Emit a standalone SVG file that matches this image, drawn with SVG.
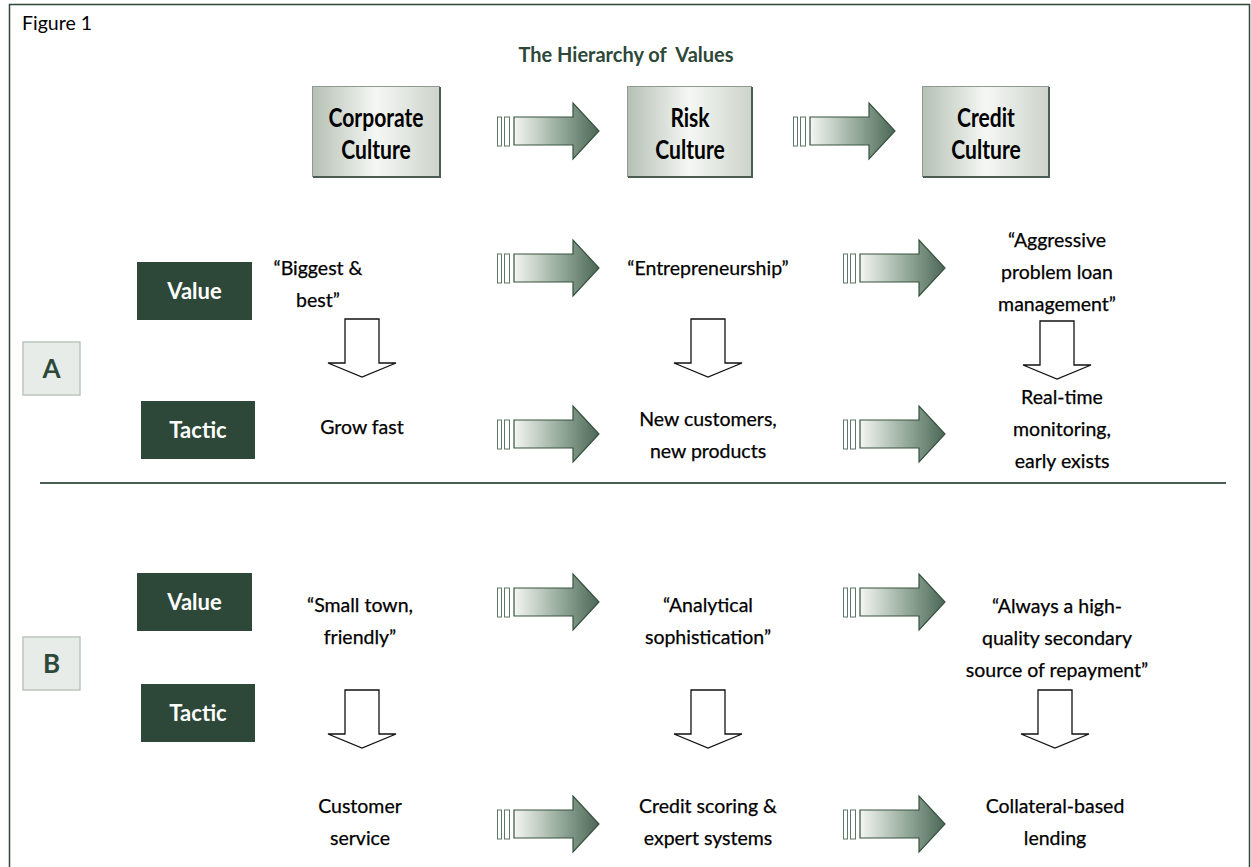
<svg xmlns="http://www.w3.org/2000/svg" width="1251" height="867" viewBox="0 0 1251 867">
  <defs>
    <linearGradient id="boxFill" x1="0" y1="0" x2="1" y2="0">
      <stop offset="0" stop-color="#b5c0b4"/>
      <stop offset="0.5" stop-color="#f5f7f4"/>
      <stop offset="1" stop-color="#cdd4cb"/>
    </linearGradient>
    <linearGradient id="arrowFill" x1="0" y1="0" x2="1" y2="0">
      <stop offset="0" stop-color="#f4f6f3"/>
      <stop offset="0.55" stop-color="#94a999"/>
      <stop offset="1" stop-color="#4b6757"/>
    </linearGradient>
    <!-- horizontal block arrow: two outline bars, then a shaded shaft and head; origin at left, vertical centre -->
    <g id="flowArrow">
      <rect x="0.5" y="-14" width="4" height="29" fill="#fff" stroke="#5e7767" stroke-width="1"/>
      <rect x="7.5" y="-14" width="5" height="29" fill="#fff" stroke="#5e7767" stroke-width="1"/>
      <path d="M17,-14 H76 V-28 L102,0 L76,28 V14 H17 Z" fill="url(#arrowFill)" stroke="#36523f" stroke-width="1.2"/>
    </g>
    <!-- hollow downward arrow; origin at top centre -->
    <path id="downArrow" d="M-17,0 H17 V44 H34 L0,58 L-34,44 H-17 Z" fill="#fff" stroke="#111" stroke-width="1.3" stroke-linejoin="miter"/>
  </defs>
  <style>
    .body { font-family: Lato, "Open Sans", sans-serif; font-size: 19.5px; fill: #000; stroke: #000; stroke-width: 0.25px; text-anchor: middle; }
    .head { font-family: Lato, "Open Sans", sans-serif; font-size: 27px; font-weight: bold; fill: #000; text-anchor: middle; }
    .tag { fill: #2d4838; }
    .tagText { font-family: Lato, "Open Sans", sans-serif; font-size: 22px; font-weight: bold; fill: #fff; text-anchor: middle; }
    .sec { fill: #e8ece8; stroke: #bcc6bd; stroke-width: 1.5; }
    .secText { font-family: Lato, "Open Sans", sans-serif; font-size: 26px; font-weight: bold; fill: #2d4838; text-anchor: middle; }
  </style>

  <rect x="0" y="0" width="1251" height="867" fill="#fff"/>
  <rect x="9.5" y="4.5" width="1240" height="870" fill="#fff" stroke="#2d4838" stroke-width="1.5"/>
  <text x="22" y="30" font-family="Lato, 'Open Sans', sans-serif" font-size="19.5" fill="#000">Figure 1</text>
  <text x="626" y="62" font-family="Lato, 'Open Sans', sans-serif" font-size="20" font-weight="bold" fill="#2d4838" text-anchor="middle" style="white-space:pre">The Hierarchy of  Values</text>

  <!-- divider between sections A and B -->
  <line x1="40" y1="483" x2="1226" y2="483" stroke="#4a5f52" stroke-width="2"/>

  <!-- culture headers (bold type narrowed horizontally) -->
  <g id="corporate-culture">
    <rect x="312.5" y="86.5" width="127" height="90" fill="url(#boxFill)" stroke="#8f9b91" stroke-width="1"/>
    <path d="M313,177 H440 V87" fill="none" stroke="#4b5c51" stroke-width="2"/>
    <text class="head" transform="translate(376 127) scale(0.78 1)">Corporate</text>
    <text class="head" transform="translate(376 159) scale(0.78 1)">Culture</text>
  </g>
  <g id="risk-culture">
    <rect x="627.5" y="86.5" width="124" height="90" fill="url(#boxFill)" stroke="#8f9b91" stroke-width="1"/>
    <path d="M628,177 H752 V87" fill="none" stroke="#4b5c51" stroke-width="2"/>
    <text class="head" transform="translate(690 127) scale(0.78 1)">Risk</text>
    <text class="head" transform="translate(690 159) scale(0.78 1)">Culture</text>
  </g>
  <g id="credit-culture">
    <rect x="922.5" y="86.5" width="126" height="90" fill="url(#boxFill)" stroke="#8f9b91" stroke-width="1"/>
    <path d="M923,177 H1049 V87" fill="none" stroke="#4b5c51" stroke-width="2"/>
    <text class="head" transform="translate(986 127) scale(0.78 1)">Credit</text>
    <text class="head" transform="translate(986 159) scale(0.78 1)">Culture</text>
  </g>

  <!-- row labels -->
  <g id="label-a">
    <rect class="sec" x="23" y="342" width="57" height="53"/>
    <text class="secText" x="51.5" y="378">A</text>
  </g>
  <g id="label-b">
    <rect class="sec" x="23" y="637" width="57" height="53"/>
    <text class="secText" x="51.5" y="673">B</text>
  </g>
  <g id="a-value-tag">
    <rect class="tag" x="137" y="262" width="115" height="58"/>
    <text class="tagText" x="194.5" y="299">Value</text>
  </g>
  <g id="a-tactic-tag">
    <rect class="tag" x="141" y="401" width="114" height="58"/>
    <text class="tagText" x="198" y="438">Tactic</text>
  </g>
  <g id="b-value-tag">
    <rect class="tag" x="137" y="573" width="115" height="58"/>
    <text class="tagText" x="194.5" y="610">Value</text>
  </g>
  <g id="b-tactic-tag">
    <rect class="tag" x="141" y="684" width="114" height="58"/>
    <text class="tagText" x="198" y="721">Tactic</text>
  </g>

  <!-- section A statements -->
  <g id="a-corporate-value">
    <text class="body" x="318" y="275">“Biggest &amp;</text>
    <text class="body" x="318" y="307">best”</text>
  </g>
  <g id="a-risk-value">
    <text class="body" x="708" y="275">“Entrepreneurship”</text>
  </g>
  <g id="a-credit-value">
    <text class="body" x="1057" y="247">“Aggressive</text>
    <text class="body" x="1057" y="279">problem loan</text>
    <text class="body" x="1057" y="311">management”</text>
  </g>
  <g id="a-corporate-tactic">
    <text class="body" x="362" y="434">Grow fast</text>
  </g>
  <g id="a-risk-tactic">
    <text class="body" x="708" y="426">New customers,</text>
    <text class="body" x="708" y="458">new products</text>
  </g>
  <g id="a-credit-tactic">
    <text class="body" x="1062" y="404">Real-time</text>
    <text class="body" x="1062" y="436">monitoring,</text>
    <text class="body" x="1062" y="468">early exists</text>
  </g>

  <!-- section B statements -->
  <g id="b-corporate-value">
    <text class="body" x="360" y="612">“Small town,</text>
    <text class="body" x="360" y="644">friendly”</text>
  </g>
  <g id="b-risk-value">
    <text class="body" x="708" y="612">“Analytical</text>
    <text class="body" x="708" y="644">sophistication”</text>
  </g>
  <g id="b-credit-value">
    <text class="body" x="1057" y="613">“Always a high-</text>
    <text class="body" x="1057" y="645">quality secondary</text>
    <text class="body" x="1057" y="677">source of repayment”</text>
  </g>
  <g id="b-corporate-tactic">
    <text class="body" x="360" y="813">Customer</text>
    <text class="body" x="360" y="845">service</text>
  </g>
  <g id="b-risk-tactic">
    <text class="body" x="708" y="813">Credit scoring &amp;</text>
    <text class="body" x="708" y="845">expert systems</text>
  </g>
  <g id="b-credit-tactic">
    <text class="body" x="1055" y="813">Collateral-based</text>
    <text class="body" x="1055" y="845">lending</text>
  </g>

  <!-- connectors -->
  <g id="connectors">
    <use href="#flowArrow" x="497" y="131"/>
    <use href="#flowArrow" x="793" y="131"/>
    <use href="#flowArrow" x="497" y="268"/>
    <use href="#flowArrow" x="843" y="268"/>
    <use href="#flowArrow" x="497" y="434"/>
    <use href="#flowArrow" x="843" y="434"/>
    <use href="#flowArrow" x="497" y="602"/>
    <use href="#flowArrow" x="843" y="602"/>
    <use href="#flowArrow" x="497" y="824"/>
    <use href="#flowArrow" x="843" y="824"/>
    <use href="#downArrow" x="362" y="319"/>
    <use href="#downArrow" x="708" y="319"/>
    <use href="#downArrow" x="1057" y="321"/>
    <use href="#downArrow" x="362" y="690"/>
    <use href="#downArrow" x="708" y="690"/>
    <use href="#downArrow" x="1055" y="690"/>
  </g>
</svg>
